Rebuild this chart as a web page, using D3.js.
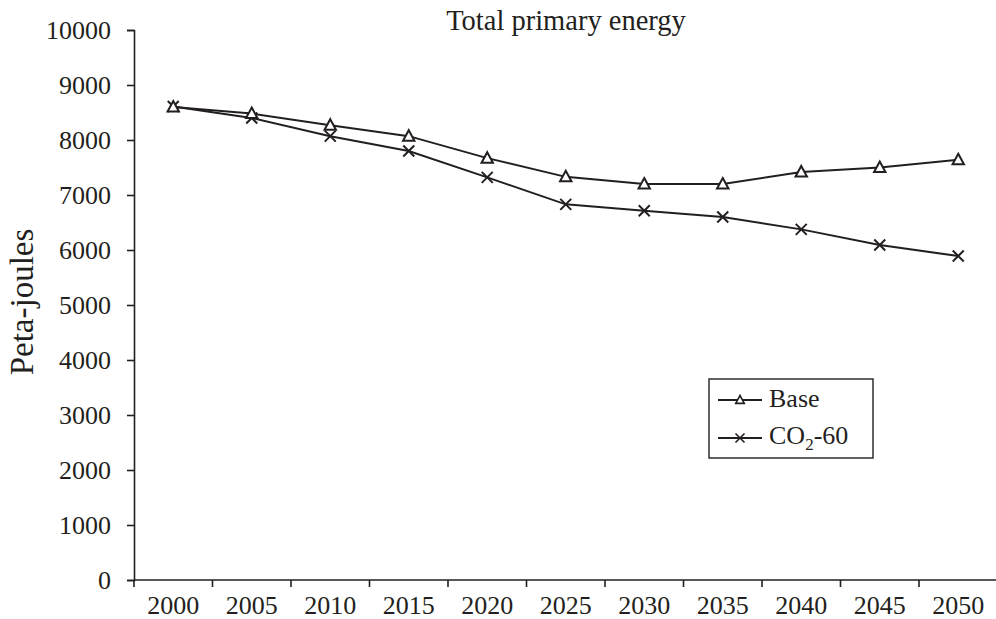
<!DOCTYPE html>
<html>
<head>
<meta charset="utf-8">
<script src="https://cdn.jsdelivr.net/npm/d3@7/dist/d3.min.js"></script>
<style>
  html, body { margin: 0; padding: 0; background: #fff; }
  svg { display: block; font-family: "Liberation Serif", "DejaVu Serif", serif; }
</style>
</head>
<body>
<svg id="chart" width="996" height="619"></svg>
<script>
const years = ["2000","2005","2010","2015","2020","2025","2030","2035","2040","2045","2050"];
const baseValues = [8600, 8480, 8270, 8070, 7670, 7330, 7200, 7200, 7420, 7500, 7640];
const co2Values  = [8610, 8400, 8070, 7800, 7320, 6830, 6715, 6600, 6375, 6090, 5890];
const yTicks = [0, 1000, 2000, 3000, 4000, 5000, 6000, 7000, 8000, 9000, 10000];

const ink = "#231f20";
const serif = "Liberation Serif, serif";
const svg = d3.select("#chart");

const x = d3.scaleBand().domain(years).range([134, 997.5]);
const y = d3.scaleLinear().domain([0, 10000]).range([580, 30]);

// Y axis
const yAxis = svg.append("g")
  .attr("transform", "translate(134,0)")
  .call(d3.axisLeft(y).tickValues(yTicks).tickSize(7).tickPadding(16).tickFormat(d => String(d)));
yAxis.select(".domain").attr("stroke", ink).attr("stroke-width", 1.6);
yAxis.selectAll(".tick line").attr("stroke", ink).attr("stroke-width", 1.6);
yAxis.selectAll(".tick text").attr("fill", ink).attr("font-size", 26)
  .attr("font-family", serif).attr("dy", "0.34em");

// X axis: ticks at band boundaries, labels centred in bands
const xAxis = svg.append("g").attr("transform", "translate(0,580)");
xAxis.append("line").attr("x1", 134).attr("x2", 997.5).attr("y1", 0).attr("y2", 0)
  .attr("stroke", ink).attr("stroke-width", 1.6);
xAxis.selectAll("line.tk").data(years).join("line").attr("class", "tk")
  .attr("x1", d => x(d)).attr("x2", d => x(d)).attr("y1", 0).attr("y2", 7)
  .attr("stroke", ink).attr("stroke-width", 1.6);
xAxis.selectAll("text").data(years).join("text")
  .attr("x", d => x(d) + x.bandwidth() / 2).attr("y", 34)
  .attr("text-anchor", "middle").attr("font-size", 26).attr("fill", ink)
  .text(d => d);

// Title and axis label
svg.append("text").attr("x", 566).attr("y", 30).attr("text-anchor", "middle")
  .attr("font-size", 28.5).attr("fill", ink).text("Total primary energy");
svg.append("text").attr("transform", "translate(33,302) rotate(-90)")
  .attr("text-anchor", "middle").attr("font-size", 33).attr("fill", ink).text("Peta-joules");

const cx = d => x(d) + x.bandwidth() / 2;
const line = d3.line().x(d => cx(d[0])).y(d => y(d[1]));

const triPath = s => `M0,${-s}L${s*0.95},${s*0.75}L${-s*0.95},${s*0.75}Z`;
const crossPath = s => `M${-s},${-s}L${s},${s}M${-s},${s}L${s},${-s}`;

function drawSeries(vals, marker, fill) {
  const pts = years.map((yr, i) => [yr, vals[i]]);
  svg.append("path").datum(pts).attr("d", line)
    .attr("fill", "none").attr("stroke", ink).attr("stroke-width", 2);
  svg.append("g").selectAll("path").data(pts).join("path")
    .attr("transform", d => `translate(${cx(d[0])},${y(d[1])})`)
    .attr("d", marker)
    .attr("fill", fill)
    .attr("stroke", ink).attr("stroke-width", 2);
}
drawSeries(co2Values, crossPath(5.5), "none");
drawSeries(baseValues, triPath(6), "#fff");

// Legend
const lg = svg.append("g");
lg.append("rect").attr("x", 709).attr("y", 379).attr("width", 164).attr("height", 79)
  .attr("fill", "#fff").attr("stroke", ink).attr("stroke-width", 1.4);
const items = [
  { marker: triPath(4.5), fill: "#fff", yy: 400 },
  { marker: crossPath(4.5), fill: "none", yy: 438 }
];
items.forEach(it => {
  lg.append("line").attr("x1", 718).attr("x2", 762).attr("y1", it.yy).attr("y2", it.yy)
    .attr("stroke", ink).attr("stroke-width", 1.8);
  lg.append("path").attr("transform", `translate(740,${it.yy})`).attr("d", it.marker)
    .attr("fill", it.fill).attr("stroke", ink).attr("stroke-width", 1.6);
});
lg.append("text").attr("x", 769).attr("y", 407).attr("font-size", 26).attr("fill", ink).text("Base");
const t2 = lg.append("text").attr("x", 769).attr("y", 444).attr("font-size", 26).attr("fill", ink);
t2.append("tspan").text("CO");
t2.append("tspan").attr("font-size", 17).attr("dy", 6).text("2");
t2.append("tspan").attr("dy", -6).text("-60");
</script>
</body>
</html>
